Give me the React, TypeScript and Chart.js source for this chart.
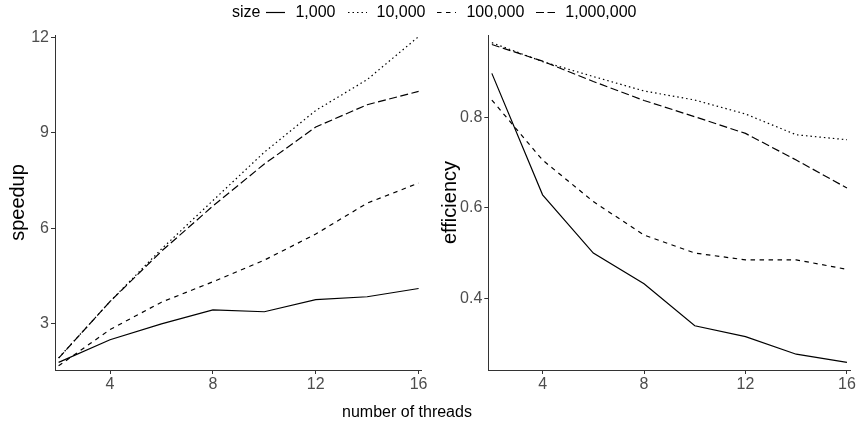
import React, { useEffect, useRef } from "react";
import { Chart, registerables } from "chart.js";
Chart.register(...registerables);

const threads = [2, 4, 6, 8, 10, 12, 14, 16];
const sizeLabels = ["1,000", "10,000", "100,000", "1,000,000"];

const speedup1k = [1.79, 2.5, 3.0, 3.44, 3.38, 3.76, 3.85, 4.11];
const speedup10k = [1.93, 3.7, 5.35, 6.87, 8.39, 9.7, 10.67, 12.02];
const speedup100k = [1.68, 2.82, 3.68, 4.32, 5.0, 5.82, 6.79, 7.42];
const speedup1m = [1.92, 3.7, 5.28, 6.7, 8.02, 9.18, 9.88, 10.3];

const eff1k = [0.898, 0.629, 0.5, 0.432, 0.339, 0.315, 0.276, 0.258];
const eff10k = [0.966, 0.924, 0.891, 0.859, 0.839, 0.808, 0.762, 0.751];
const eff100k = [0.839, 0.706, 0.614, 0.54, 0.5, 0.485, 0.485, 0.464];
const eff1m = [0.962, 0.925, 0.88, 0.838, 0.802, 0.765, 0.706, 0.644];

const xTicks = [4, 8, 12, 16];
const speedupTicks = [3, 6, 9, 12];
const efficiencyTicks = [0.4, 0.6, 0.8];

const dashes: number[][] = [[], [1.5, 3], [4.5, 4.5], [8, 3.5]];
const FONT = "'Liberation Sans', Arial, Helvetica, sans-serif";

function makeChart(
  canvas: HTMLCanvasElement,
  series: number[][],
  yTitle: string,
  yMin: number,
  yMax: number,
  yTicks: number[],
  yAxisWidth: number,
  padRight: number,
  titlePad: number,
  fmt: (v: number) => string
) {
  return new Chart(canvas, {
    type: "line",
    data: {
      datasets: series.map((vals, i) => ({
        label: sizeLabels[i],
        data: threads.map((t, j) => ({ x: t, y: vals[j] })),
        borderColor: "#000",
        borderWidth: 1.2,
        borderDash: dashes[i],
        pointRadius: 0,
        fill: false,
        tension: 0,
      })),
    },
    options: {
      animation: false,
      responsive: false,
      maintainAspectRatio: false,
      layout: { padding: { top: 35, right: padRight, bottom: 0, left: 0 } },
      plugins: { legend: { display: false }, tooltip: { enabled: false } },
      scales: {
        x: {
          type: "linear",
          min: 1.86,
          max: 16.12,
          afterBuildTicks: (s: any) => {
            s.ticks = xTicks.map((v) => ({ value: v }));
          },
          afterFit: (s: any) => {
            s.height = 53;
          },
          ticks: {
            color: "#4d4d4d",
            font: { family: FONT, size: 16 },
            padding: 1,
            maxRotation: 0,
            callback: (v: any) => String(v),
          },
          grid: {
            drawOnChartArea: false,
            drawTicks: true,
            tickLength: 4,
            color: "#333",
            lineWidth: 1,
          },
          border: { display: true, color: "#333", width: 1 },
        },
        y: {
          type: "linear",
          min: yMin,
          max: yMax,
          afterBuildTicks: (s: any) => {
            s.ticks = yTicks.map((v) => ({ value: v }));
          },
          afterFit: (s: any) => {
            s.width = yAxisWidth;
          },
          ticks: {
            color: "#4d4d4d",
            font: { family: FONT, size: 16 },
            padding: 2,
            callback: (v: any) => fmt(Number(v)),
          },
          grid: {
            drawOnChartArea: false,
            drawTicks: true,
            tickLength: 4,
            color: "#333",
            lineWidth: 1,
          },
          border: { display: true, color: "#333", width: 1 },
          title: {
            display: true,
            text: yTitle,
            color: "#000",
            font: { family: FONT, size: 20 },
            padding: { top: titlePad, bottom: 0 },
          },
        },
      },
    },
  } as any);
}

function LegendKey({ dash }: { dash: number[] }) {
  return (
    <svg width={19} height={16} style={{ display: "block" }}>
      <line
        x1={0}
        y1={8.5}
        x2={19}
        y2={8.5}
        stroke="#000"
        strokeWidth={1.2}
        strokeDasharray={dash.length ? dash.join(",") : undefined}
      />
    </svg>
  );
}

export default function App() {
  const leftRef = useRef<HTMLCanvasElement>(null);
  const rightRef = useRef<HTMLCanvasElement>(null);

  useEffect(() => {
    const c1 = makeChart(
      leftRef.current!,
      [speedup1k, speedup10k, speedup100k, speedup1m],
      "speedup",
      1.55,
      12.07,
      speedupTicks,
      55,
      8.3,
      6.5,
      (v) => String(v)
    );
    const c2 = makeChart(
      rightRef.current!,
      [eff1k, eff10k, eff100k, eff1m],
      "efficiency",
      0.241,
      0.983,
      efficiencyTicks,
      58.3,
      8,
      8.8,
      (v) => v.toFixed(1)
    );
    return () => {
      c1.destroy();
      c2.destroy();
    };
  }, []);

  return (
    <div
      style={{
        position: "fixed",
        left: 0,
        top: 0,
        width: 858,
        height: 423,
        background: "#fff",
        fontFamily: FONT,
        overflow: "hidden",
      }}
    >
      <canvas
        ref={leftRef}
        width={430}
        height={423}
        style={{ position: "absolute", left: 0, top: 0, width: 430, height: 423 }}
      />
      <canvas
        ref={rightRef}
        width={428}
        height={423}
        style={{ position: "absolute", left: 430, top: 0, width: 428, height: 423 }}
      />
      <div
        style={{
          position: "absolute",
          left: 232,
          top: 4,
          display: "flex",
          alignItems: "center",
          fontSize: 16,
          lineHeight: "16px",
          color: "#000",
          whiteSpace: "nowrap",
        }}
      >
        <span style={{ marginRight: 6 }}>size</span>
        {sizeLabels.map((lab, i) => (
          <React.Fragment key={lab}>
            <LegendKey dash={dashes[i]} />
            <span style={{ marginLeft: 10, marginRight: i < 3 ? 12 : 0 }}>{lab}</span>
          </React.Fragment>
        ))}
      </div>
      <div
        style={{
          position: "absolute",
          left: 257,
          width: 300,
          top: 404,
          textAlign: "center",
          fontSize: 16,
          lineHeight: "16px",
          color: "#000",
        }}
      >
        number of threads
      </div>
    </div>
  );
}
